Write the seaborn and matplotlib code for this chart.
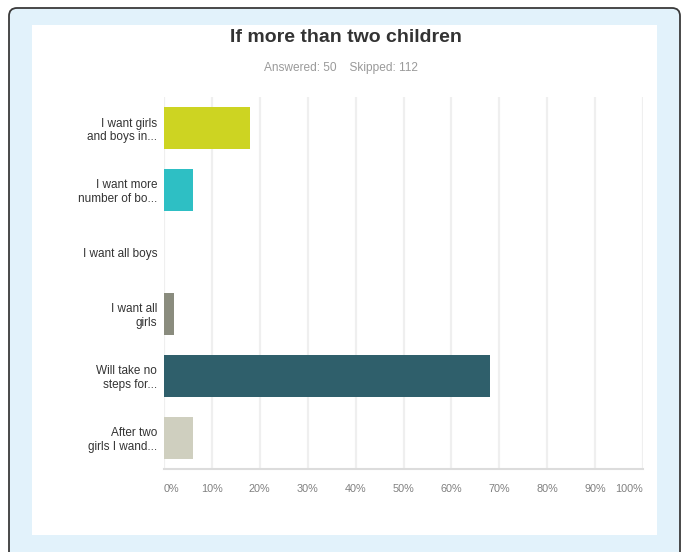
import matplotlib
matplotlib.use("Agg")
import matplotlib.pyplot as plt
import seaborn as sns
import pandas as pd
from matplotlib.patches import FancyBboxPatch, Rectangle

# Survey answers (truncated as in the survey tool) and share of respondents (%)
answers = [
    "I want girls\nand boys in...",
    "I want more\nnumber of bo...",
    "I want all boys",
    "I want all\ngirls",
    "Will take no\nsteps for...",
    "After two\ngirls I wand...",
]
percent = [18, 6, 0, 2, 68, 6]
bar_colors = ["#cdd422", "#2ebfc4", "#a9aa9a", "#8a8c7e", "#2f5f6b", "#cfcfbf"]
x_ticks = [0, 10, 20, 30, 40, 50, 60, 70, 80, 90, 100]
x_tick_labels = [f"{t}%" for t in x_ticks]

title = "If more than two children"
subtitle = "Answered: 50    Skipped: 112"

sns.set_theme(style="white")
plt.rcParams["font.family"] = ["Liberation Sans", "DejaVu Sans"]

W, H = 686, 552
fig = plt.figure(figsize=(W / 100, H / 100), dpi=100, facecolor="white")

# Framed light-blue card with a white panel inside
card = FancyBboxPatch((9 / 100, -0.1), (680 - 9) / 100, (H - 8) / 100 + 0.1,
                      boxstyle="round,pad=0,rounding_size=0.08",
                      transform=fig.dpi_scale_trans, facecolor="#e2f2fb",
                      edgecolor="#3a3a3a", linewidth=1.3, zorder=-3)
fig.patches.append(card)
panel = Rectangle((32 / 100, (H - 535) / 100), (657 - 32) / 100, (535 - 25) / 100,
                  transform=fig.dpi_scale_trans, facecolor="white",
                  edgecolor="none", zorder=-2)
fig.patches.append(panel)

fig.text(346 / W, 1 - 37 / H, title, ha="center", va="center",
         fontsize=14, fontweight="bold", color="#333333")
fig.text(341 / W, 1 - 68 / H, subtitle, ha="center", va="center",
         fontsize=8.6, color="#9a9a9a")

ax = fig.add_axes([164 / W, 1 - 469 / H, (643 - 164) / W, (469 - 97) / H])
ax.set_facecolor("none")

df = pd.DataFrame({"answer": answers, "percent": percent})
sns.barplot(data=df, x="percent", y="answer", hue="answer", palette=bar_colors,
            orient="h", width=0.67, saturation=1, legend=False, ax=ax,
            edgecolor="none", zorder=3)

ax.set_xlim(0, 100)
ax.set_ylim(5.5, -0.5)
ax.set_xticks(x_ticks)
ax.set_xticklabels(x_tick_labels)
ax.set_xlabel("")
ax.set_ylabel("")
ax.xaxis.grid(True, color="#efefef", linewidth=1.6, zorder=0)
ax.yaxis.grid(False)
ax.set_axisbelow(True)
for side in ["top", "right", "left"]:
    ax.spines[side].set_visible(False)
ax.spines["bottom"].set_color("#dcdcdc")
ax.spines["bottom"].set_linewidth(1.5)
ax.tick_params(axis="x", length=0, pad=11, labelsize=7.8, labelcolor="#808080")
ax.tick_params(axis="y", length=0, pad=5, labelsize=8.5, labelcolor="#333333")

# keep the end labels inside the plotting area
xlabels = ax.get_xticklabels()
xlabels[0].set_horizontalalignment("left")
xlabels[-1].set_horizontalalignment("right")

for lbl in ax.get_yticklabels():
    lbl.set_horizontalalignment("right")
    lbl.set_multialignment("right")
    lbl.set_linespacing(1.12)

fig.savefig("out.png", dpi=100, facecolor=fig.get_facecolor())
